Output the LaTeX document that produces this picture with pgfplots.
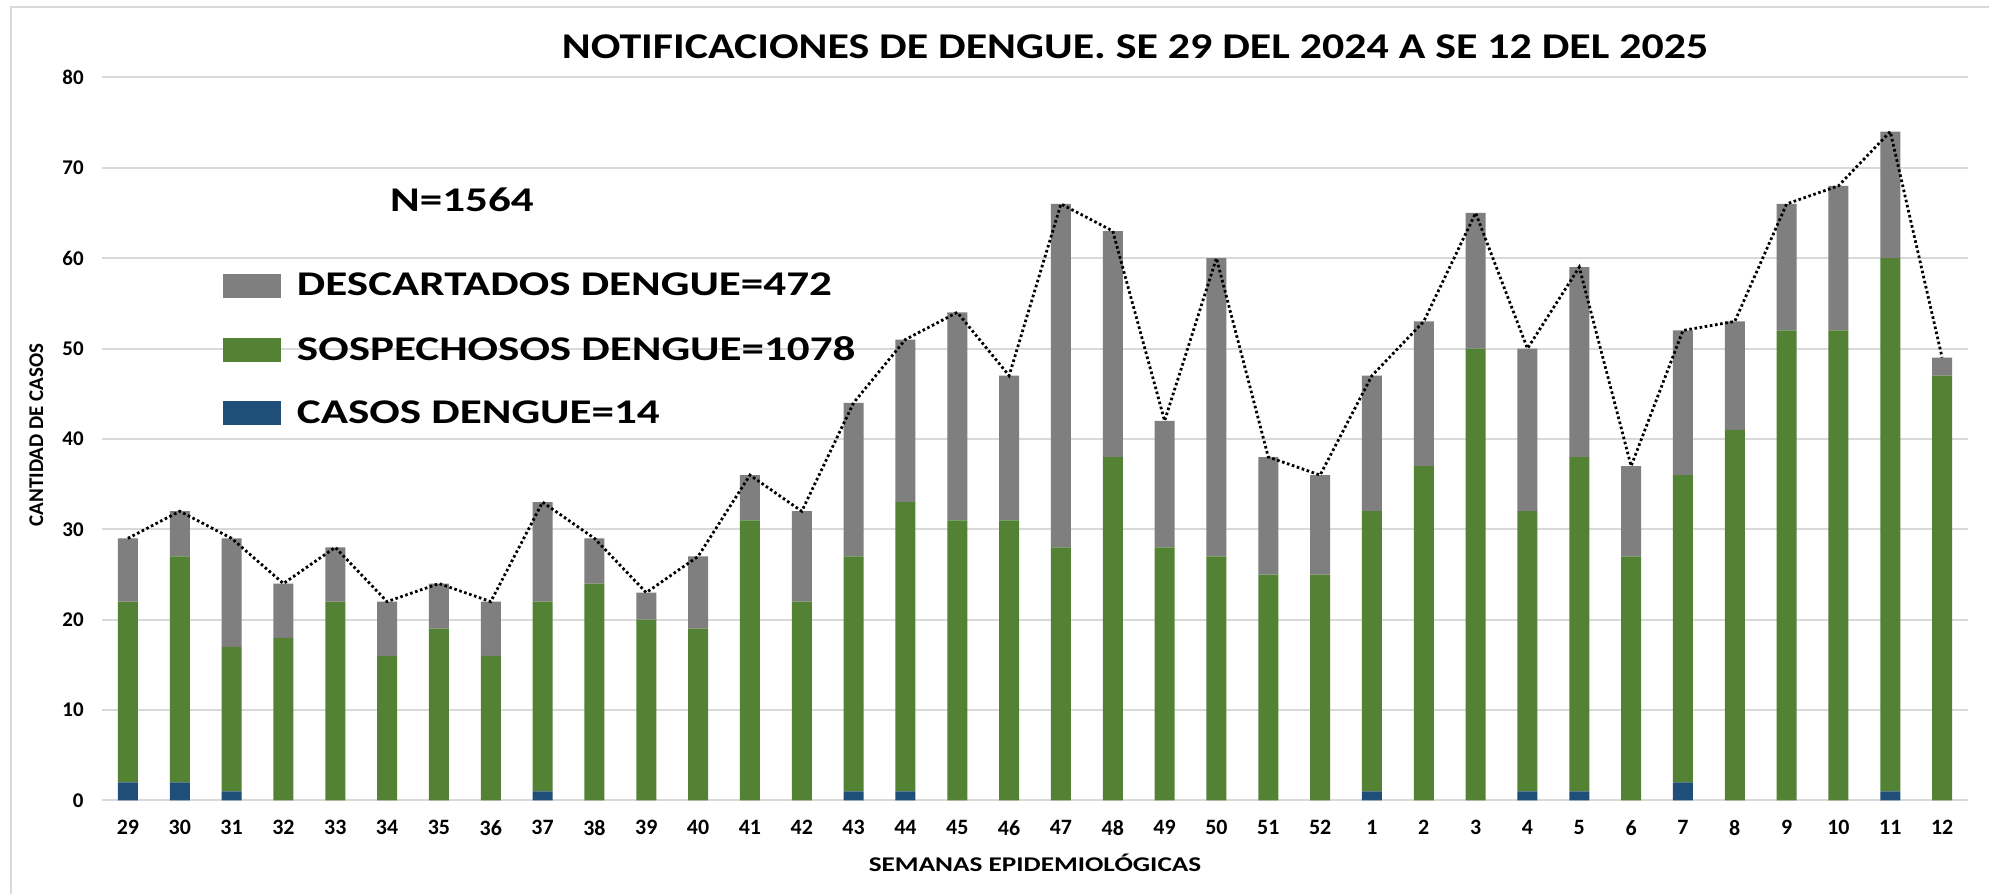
\documentclass[border=0pt]{standalone}
\usepackage{fontspec}
\setmainfont{Carlito}
\newfontfamily\widefont{Carlito}[FakeStretch=1.3]
\newfontfamily\titlefont{Carlito}[FakeStretch=1.21]
\usepackage{pgfplots}
\usepackage{pgfplotstable}
\pgfplotsset{compat=1.18}
\definecolor{cgray}{HTML}{7F7F7F}
\definecolor{cgreen}{HTML}{548235}
\definecolor{cblue}{HTML}{1F4E79}
\definecolor{cgrid}{HTML}{D9D9D9}

\pgfplotstableread{
x wk casos sosp desc total
0 29 2 20 7 29
1 30 2 25 5 32
2 31 1 16 12 29
3 32 0 18 6 24
4 33 0 22 6 28
5 34 0 16 6 22
6 35 0 19 5 24
7 36 0 16 6 22
8 37 1 21 11 33
9 38 0 24 5 29
10 39 0 20 3 23
11 40 0 19 8 27
12 41 0 31 5 36
13 42 0 22 10 32
14 43 1 26 17 44
15 44 1 32 18 51
16 45 0 31 23 54
17 46 0 31 16 47
18 47 0 28 38 66
19 48 0 38 25 63
20 49 0 28 14 42
21 50 0 27 33 60
22 51 0 25 13 38
23 52 0 25 11 36
24 1 1 31 15 47
25 2 0 37 16 53
26 3 0 50 15 65
27 4 1 31 18 50
28 5 1 37 21 59
29 6 0 27 10 37
30 7 2 34 16 52
31 8 0 41 12 53
32 9 0 52 14 66
33 10 0 52 16 68
34 11 1 59 14 74
35 12 0 47 2 49
}\data

\pgfplotsset{myaxis/.style={
  scale only axis, width=933bp, height=361.55bp,
  at={(51bp,46.75bp)}, anchor=south west,
  xmin=-0.5, xmax=35.5, ymin=0, ymax=80}}

\begin{document}
\begin{tikzpicture}[x=1bp,y=1bp]
\useasboundingbox (0,0) rectangle (994.5,447);
\fill[white] (0,0) rectangle (994.5,447);
\draw[cgrid, line width=1bp] (5.5,0) -- (5.5,443.5) -- (994.5,443.5);
\begin{axis}[myaxis,
  ybar stacked, bar width=10bp,
  axis line style={draw=none},
  major tick length=0pt,
  ymajorgrids, grid style={cgrid, line width=1bp},
  ytick={0,10,...,80},
  xtick={0,...,35},
  xticklabels={29,30,31,32,33,34,35,36,37,38,39,40,41,42,43,44,45,46,47,48,49,50,51,52,1,2,3,4,5,6,7,8,9,10,11,12},
  /pgf/number format/assume math mode=true,
  xticklabel style={font=\bfseries\fontsize{11}{13}\selectfont, anchor=north, inner sep=0pt, yshift=-9.75bp},
  yticklabel style={font=\bfseries\fontsize{10.5}{12}\selectfont, anchor=east, inner sep=0pt, xshift=-9bp},
  xlabel={SEMANAS EPIDEMIOL\'OGICAS},
  ylabel={CANTIDAD DE CASOS},
  every axis x label/.style={at={(axis description cs:0.5,-0.0985)}, anchor=base, font=\widefont\bfseries\fontsize{10.5}{12}\selectfont},
  every axis y label/.style={at={(axis description cs:-0.0316,0.5055)}, rotate=90, anchor=base, font=\bfseries\fontsize{10.5}{12}\selectfont},
  reverse legend,
  legend cell align=left,
  legend image code/.code={\fill[#1] (0bp,-6bp) rectangle (29bp,6bp); \path (37bp,0bp);},
  legend style={at={(axis description cs:0.06484,0.7295)}, anchor=north west, draw=none, fill=none,
    inner sep=0pt, outer sep=0pt, row sep=18.75bp, column sep=0pt,
    nodes={inner sep=0pt, outer sep=0pt},
    font=\widefont\bfseries\fontsize{17.4}{20}\selectfont},
]
\addplot[fill=cblue, draw=none] table[x=x,y=casos]{\data};
\addplot[fill=cgreen, draw=none] table[x=x,y=sosp]{\data};
\addplot[fill=cgray, draw=none] table[x=x,y=desc]{\data};
\legend{CASOS DENGUE=14, SOSPECHOSOS DENGUE=1078, DESCARTADOS DENGUE=472}
\end{axis}
\begin{axis}[myaxis, hide axis]
\addplot[black, line width=1.4bp, dash pattern=on 1.3bp off 1.3bp] table[x=x,y=total]{\data};
\end{axis}
\node[anchor=base, inner sep=0pt, font=\titlefont\bfseries\fontsize{18.2}{20}\selectfont] at (567.5,417.9) {NOTIFICACIONES DE DENGUE. SE 29 DEL 2024 A SE 12 DEL 2025};
\node[anchor=base, inner sep=0pt, font=\widefont\bfseries\fontsize{17.4}{20}\selectfont] at (231,341) {N=1564};
\end{tikzpicture}
\end{document}
